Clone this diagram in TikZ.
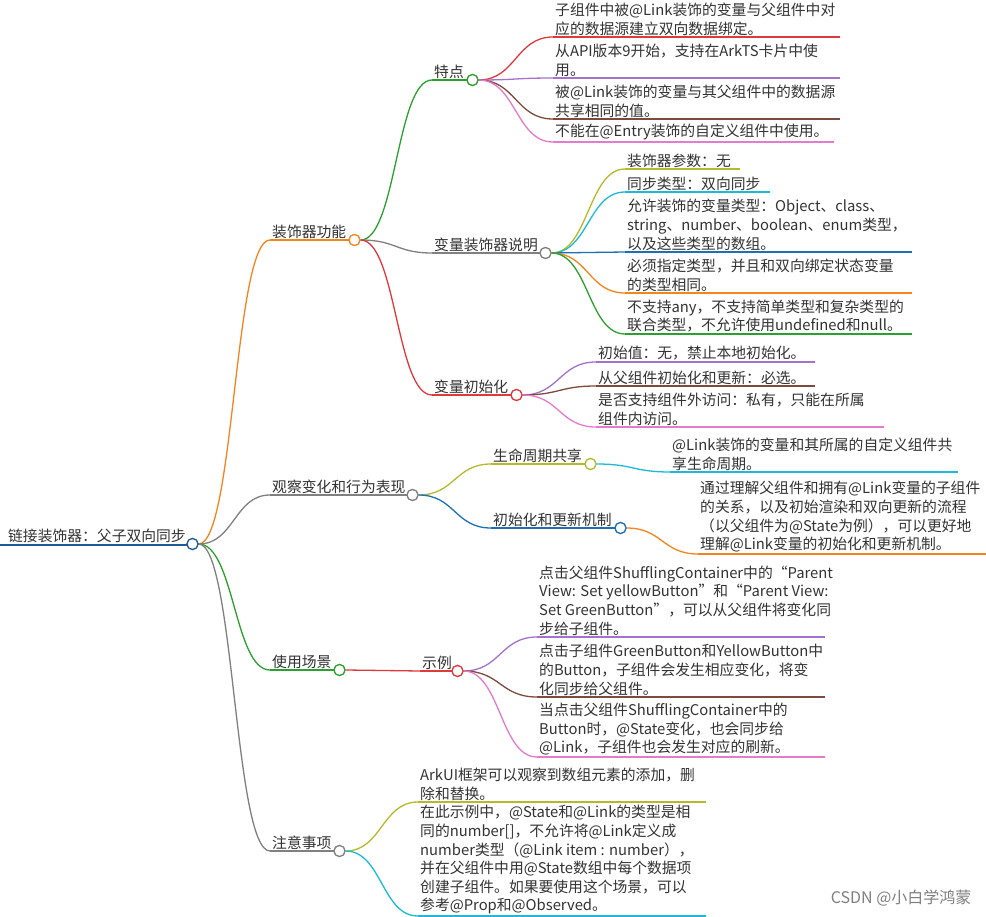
\documentclass[tikz,border=0pt]{standalone}
\usepackage{fontspec}
\setmainfont{Noto Sans CJK SC}
\usetikzlibrary{calc}
\definecolor{cred}{HTML}{E0393D}
\definecolor{cpur}{HTML}{A472CC}
\definecolor{cbrn}{HTML}{7D4B3E}
\definecolor{cpink}{HTML}{E67ACB}
\definecolor{colive}{HTML}{B7B92C}
\definecolor{ccyan}{HTML}{1CBAD8}
\definecolor{cblue}{HTML}{1F6FB5}
\definecolor{corg}{HTML}{F5841F}
\definecolor{cgrn}{HTML}{2CA02C}
\definecolor{cgray}{HTML}{808080}
\definecolor{croot}{HTML}{1F5A96}
\definecolor{ctext}{HTML}{333333}
\newcommand\mmfont{\fontsize{14.8}{18.6}\selectfont\lineskiplimit=-20pt\relax\lineskip=0pt\relax}
\tikzset{
  txt/.style={anchor=south west, align=left, inner xsep=2pt, inner ysep=1.5pt, text=ctext,
     font=\mmfont},
  dot/.style={circle, draw=#1, fill=white, line width=1.2pt, minimum size=11pt, inner sep=0pt},
  br/.style={line width=1.3pt, #1},
}
\newcommand\mmleaf[7]{%
  \coordinate (#1s) at (#2,#3);
  \coordinate (#1e) at (#4,#3);
  \node[txt] (#1) at (#2,#3) {#7};
  \draw[br=#5] (#1s) -- (#1e);
  \draw[br=#5] let \p1=(#6.east), \p2=(#1s) in (\p1) .. controls ({0.5*\x1+0.5*\x2},\y1) and ({0.5*\x1+0.5*\x2},\y2) .. (\p2);
}
\newcommand\mmnode[7]{%
  \mmleaf{#1}{#2}{#3}{#4}{#5}{#6}{#7}
  \node[dot=#5] (#1c) at ($(#1e)+(5.5,0)$) {};
}
\begin{document}
\begin{tikzpicture}[x=1pt,y=-1pt]
\useasboundingbox[fill=white] (0,0) rectangle (986,917);
% root
\coordinate (roots) at (0,545);
\coordinate (roote) at (187,545);
\node[txt] (root) at (6,544) {链接装饰器：父子双向同步};
\draw[line width=2.5pt, croot] (roots) -- (roote);
\node[dot=croot] (rootc) at (192.5,544) {};
% level 1
\mmnode{l1a}{270}{240}{349}{corg}{rootc}{装饰器功能}
\mmnode{l1b}{270}{495}{407}{cgray}{rootc}{观察变化和行为表现}
\mmnode{l1c}{270}{670}{334}{cgrn}{rootc}{使用场景}
\mmnode{l1d}{270}{851}{334}{cgray}{rootc}{注意事项}
\node[dot=croot] at (rootc) {};
% level 2 under l1a
\mmnode{td}{432}{80}{467}{cgrn}{l1ac}{特点}
\mmnode{sm}{432}{253}{540}{cgray}{l1ac}{变量装饰器说明}
\mmnode{cs}{432}{395}{511}{cred}{l1ac}{变量初始化}
\node[dot=corg] at (l1ac) {};
% leaves under td
\mmleaf{td1}{553}{37}{840}{cred}{tdc}{子组件中被@Link装饰的变量与父组件中对\\应的数据源建立双向数据绑定。}
\mmleaf{td2}{553}{78}{840}{cpur}{tdc}{从API版本9开始，支持在ArkTS卡片中使\\用。}
\mmleaf{td3}{553}{119}{840}{cbrn}{tdc}{被@Link装饰的变量与其父组件中的数据源\\共享相同的值。}
\mmleaf{td4}{553}{142}{834}{cpink}{tdc}{不能在@Entry装饰的自定义组件中使用。}
\node[dot=cgrn] at (tdc) {};
% leaves under sm
\mmleaf{sm1}{625}{169}{740}{colive}{smc}{装饰器参数：无}
\mmleaf{sm2}{625}{192}{770}{ccyan}{smc}{同步类型：双向同步}
\mmleaf{sm3}{625}{252}{912}{cblue}{smc}{允许装饰的变量类型：Object、class、\\string、number、boolean、enum类型，\\以及这些类型的数组。}
\mmleaf{sm4}{625}{293}{912}{corg}{smc}{必须指定类型，并且和双向绑定状态变量\\的类型相同。}
\mmleaf{sm5}{625}{334}{912}{cgrn}{smc}{不支持any，不支持简单类型和复杂类型的\\联合类型，不允许使用undefined和null。}
\node[dot=cgray] at (smc) {};
% leaves under cs
\mmleaf{cs1}{596}{362}{815}{cpur}{csc}{初始值：无，禁止本地初始化。}
\mmleaf{cs2}{596}{386}{815}{cbrn}{csc}{从父组件初始化和更新：必选。}
\mmleaf{cs3}{596}{427}{884}{cpink}{csc}{是否支持组件外访问：私有，只能在所属\\组件内访问。}
\node[dot=cred] at (csc) {};
% under l1b
\mmnode{sq}{491}{464}{585}{colive}{l1bc}{生命周期共享}
\mmnode{jz}{491}{528}{615}{cblue}{l1bc}{初始化和更新机制}
\node[dot=cgray] at (l1bc) {};
\mmleaf{sq1}{670}{472}{958}{ccyan}{sqc}{@Link装饰的变量和其所属的自定义组件共\\享生命周期。}
\node[dot=colive] at (sqc) {};
\mmleaf{jz1}{698}{554}{986}{corg}{jzc}{通过理解父组件和拥有@Link变量的子组件\\的关系，以及初始渲染和双向更新的流程\\（以父组件为@State为例），可以更好地\\理解@Link变量的初始化和更新机制。}
\node[dot=cblue] at (jzc) {};
% under l1c
\mmnode{sl}{420}{671}{452}{cred}{l1cc}{示例}
\node[dot=cgrn] at (l1cc) {};
\mmleaf{sl1}{537}{637}{825}{cpur}{slc}{点击父组件ShufflingContainer中的“Parent\\View: Set yellowButton”和“Parent View:\\Set GreenButton”，可以从父组件将变化同\\步给子组件。}
\mmleaf{sl2}{537}{697}{825}{cbrn}{slc}{点击子组件GreenButton和YellowButton中\\的Button，子组件会发生相应变化，将变\\化同步给父组件。}
\mmleaf{sl3}{537}{757}{825}{cpink}{slc}{当点击父组件ShufflingContainer中的\\Button时，@State变化，也会同步给\\@Link，子组件也会发生对应的刷新。}
\node[dot=cred] at (slc) {};
% under l1d
\mmleaf{zy1}{418}{802}{706}{colive}{l1dc}{ArkUI框架可以观察到数组元素的添加，删\\除和替换。}
\mmleaf{zy2}{418}{916}{706}{ccyan}{l1dc}{在此示例中，@State和@Link的类型是相\\同的number[]，不允许将@Link定义成\\number类型（@Link item : number），\\并在父组件中用@State数组中每个数据项\\创建子组件。如果要使用这个场景，可以\\参考@Prop和@Observed。}
\node[dot=cgray] at (l1dc) {};
\node[anchor=south east, text=cgray, font=\fontsize{16}{18}\selectfont] (wm) at (975,910) {CSDN @小白学鸿蒙};
\end{tikzpicture}
\end{document}
